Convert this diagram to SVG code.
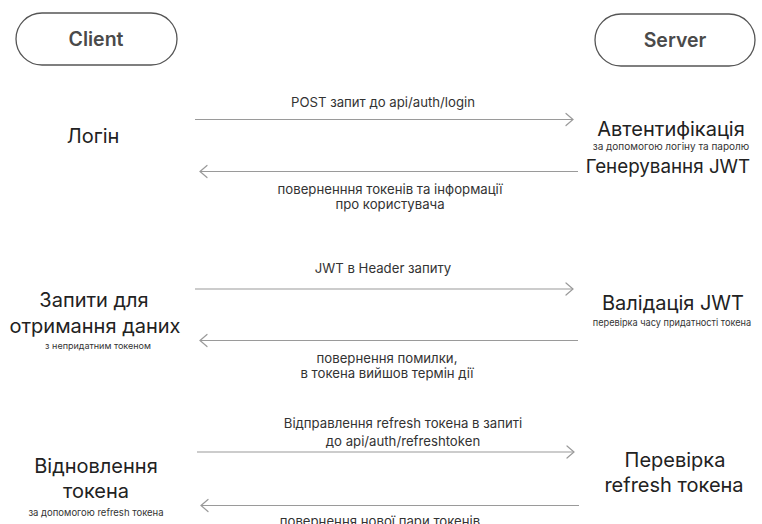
<svg xmlns="http://www.w3.org/2000/svg" width="762" height="524" viewBox="0 0 762 524">
<style>
.pill{fill:#fff;stroke:#555;stroke-width:1.3}
.pt{font-family:Inter,"Liberation Sans",sans-serif;font-size:19.5px;font-weight:600;fill:#4a4a4a;text-anchor:middle}
.big{font-family:Inter,"Liberation Sans",sans-serif;font-size:20px;fill:#222;text-anchor:middle}
.sm{font-family:Inter,"Liberation Sans",sans-serif;font-size:9.5px;fill:#333;text-anchor:middle}
.lb{font-family:Inter,"Liberation Sans",sans-serif;font-size:13.2px;fill:#333;text-anchor:middle}
.ln{stroke:#9a9a9a;stroke-width:1.2;fill:none}
.hd{stroke:#9a9a9a;stroke-width:1.2;fill:none;stroke-linecap:round}
</style>
<rect width="762" height="524" fill="#fff"/>
<g id="client"><rect class="pill" x="16" y="13" width="161" height="52" rx="26"/><text class="pt" x="96" y="45.5">Client</text></g>
<g id="server"><rect class="pill" x="595" y="14" width="160" height="52" rx="26"/><text class="pt" x="675" y="47">Server</text></g>
<g id="login"><text class="big" x="93" y="143">Логін</text></g>
<g id="auth"><text class="big" x="671" y="136">Автентифікація</text><text class="sm" x="671" y="150" style="font-size:10px">за допомогою логіну та паролю</text><text class="big" x="668" y="173" style="font-size:18.8px">Генерування JWT</text></g>
<g id="requests"><text class="big" x="94" y="307">Запити для</text><text class="big" x="95" y="333">отримання даних</text><text class="sm" x="98" y="349" style="font-size:9px">з непридатним токеном</text></g>
<g id="validation"><text class="big" x="673" y="310">Валідація JWT</text><text class="sm" x="672" y="326" style="font-size:9.2px">перевірка часу придатності токена</text></g>
<g id="refresh"><text class="big" x="96" y="473">Відновлення</text><text class="big" x="96" y="498">токена</text><text class="sm" x="96" y="516">за допомогою refresh токена</text></g>
<g id="check"><text class="big" x="675" y="467">Перевірка</text><text class="big" x="674" y="492">refresh токена</text></g>
<g id="connectors">
<path class="ln" d="M195 119.5H573"/><path class="hd" d="M566 113.5l7 6-7 6"/>
<text class="lb" x="383" y="107">POST запит до api/auth/login</text>
<path class="ln" d="M200 171.5H578"/><path class="hd" d="M207 165.5l-7 6 7 6"/>
<text class="lb" x="390" y="193.5">поверненння токенів та інформації</text>
<text class="lb" x="390" y="208.5">про користувача</text>
<path class="ln" d="M195 289H573"/><path class="hd" d="M566 283l7 6-7 6"/>
<text class="lb" x="383" y="273">JWT в Header запиту</text>
<path class="ln" d="M200 340.5H578"/><path class="hd" d="M207 334.5l-7 6 7 6"/>
<text class="lb" x="387" y="363">повернення помилки,</text>
<text class="lb" x="387" y="378">в токена вийшов термін дії</text>
<path class="ln" d="M197 452H574"/><path class="hd" d="M567 446l7 6-7 6"/>
<text class="lb" x="403" y="428">Відправлення refresh токена в запиті</text>
<text class="lb" x="403" y="446">до api/auth/refreshtoken</text>
<path class="ln" d="M201 505.5H579"/><path class="hd" d="M208 499.5l-7 6 7 6"/>
<text class="lb" x="380" y="526">повернення нової пари токенів</text>
</g>
</svg>
